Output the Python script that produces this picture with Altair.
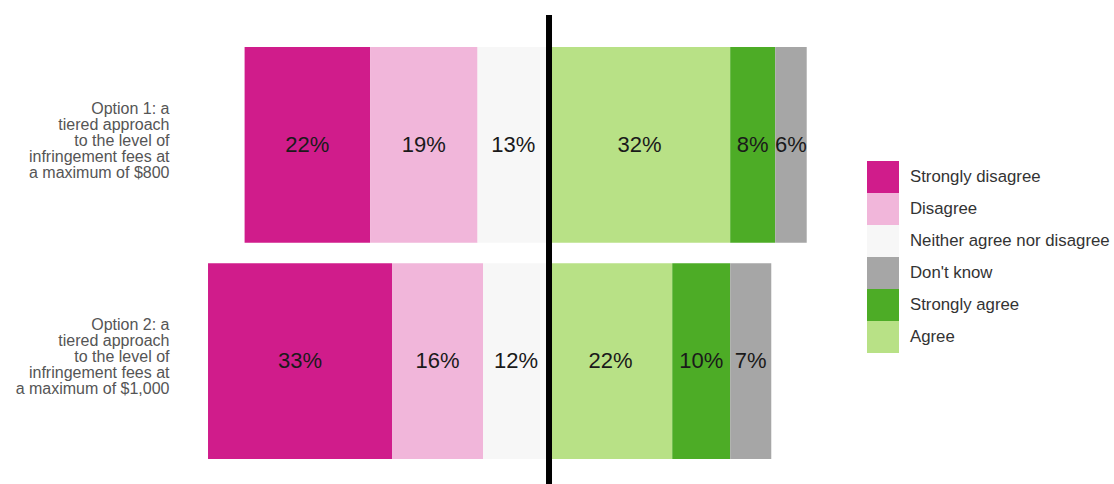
import altair as alt
import pandas as pd

# ---- data ----
options = [
    "Option 1: a|tiered approach|to the level of|infringement fees at|a maximum of $800",
    "Option 2: a|tiered approach|to the level of|infringement fees at|a maximum of $1,000",
]
responses = ["Strongly disagree", "Disagree", "Neither agree nor disagree",
             "Don't know", "Strongly agree", "Agree"]
colors = ["#d01c8b", "#f1b6da", "#f7f7f7", "#a6a6a6", "#4dac26", "#b8e186"]

# percentages per option, in the order of `responses`
option1_values = [22.3, 19.1, 12.7, 5.6, 8.0, 32.2]
option2_values = [32.7, 16.2, 11.7, 7.3, 10.3, 21.9]

# ---- build diverging stacked table ----
rows = []
for opt, vals in zip(options, [option1_values, option2_values]):
    v = dict(zip(responses, vals))
    sd, d, n = v["Strongly disagree"], v["Disagree"], v["Neither agree nor disagree"]
    a, sa, dk = v["Agree"], v["Strongly agree"], v["Don't know"]
    left = -(sd + d + n)
    segs = [
        ("Strongly disagree", left, left + sd),
        ("Disagree", left + sd, -n),
        ("Neither agree nor disagree", -n, 0),
        ("Agree", 0, a),
        ("Strongly agree", a, a + sa),
        ("Don't know", a + sa, a + sa + dk),
    ]
    for name, x0, x1 in segs:
        rows.append({
            "option": opt,
            "response": name,
            "x": x0,
            "x2": x1,
            "mid": (x0 + x1) / 2,
            "label": f"{round(v[name])}%",
        })
df = pd.DataFrame(rows)

xscale = alt.Scale(domain=[-65.58, 48.16], nice=False, zero=False)
yscale = alt.Scale(paddingInner=0.095, paddingOuter=0.148)

base = alt.Chart(df)

bars = base.mark_bar().encode(
    x=alt.X("x:Q", scale=xscale, axis=None),
    x2="x2:Q",
    y=alt.Y(
        "option:N",
        sort=options,
        scale=yscale,
        axis=alt.Axis(
            title=None,
            labelExpr="split(datum.label, '|')",
            labelAlign="right",
            labelFontSize=16,
            labelColor="#555555",
            labelLineHeight=16,
            labelPadding=11,
            labelLimit=400,
            ticks=False,
            domain=False,
            labelOffset=-36,
        ),
    ),
    color=alt.Color(
        "response:N",
        scale=alt.Scale(domain=responses, range=colors),
        legend=alt.Legend(
            title=None,
            orient="none",
            legendX=687,
            legendY=146,
            symbolType="square",
            symbolSize=1024,
            symbolStrokeWidth=0,
            symbolOpacity=1,
            rowPadding=0,
            padding=0,
            labelFontSize=16.8,
            labelOffset=11,
            labelColor="#333333",
            labelLimit=300,
        ),
    ),
)

texts = base.mark_text(fontSize=22, color="#1a1a1a").encode(
    x=alt.X("mid:Q", scale=xscale, axis=None),
    y=alt.Y("option:N", sort=options, scale=yscale),
    text="label:N",
)

rule = alt.Chart(pd.DataFrame({"x": [0]})).mark_rule(
    color="black", strokeWidth=6
).encode(
    x=alt.X("x:Q", scale=xscale, axis=None),
    y=alt.value(0),
    y2=alt.value(476),
)

chart = alt.layer(bars, texts, rule).properties(
    width=640,
    height=476,
    padding={"left": 180, "top": 15, "right": 294, "bottom": 0},
    autosize=alt.AutoSizeParams(type="none"),
).configure(font="Liberation Sans").configure_view(stroke=None)

chart.save("out.html", embed_options={"renderer": "svg", "actions": False})
